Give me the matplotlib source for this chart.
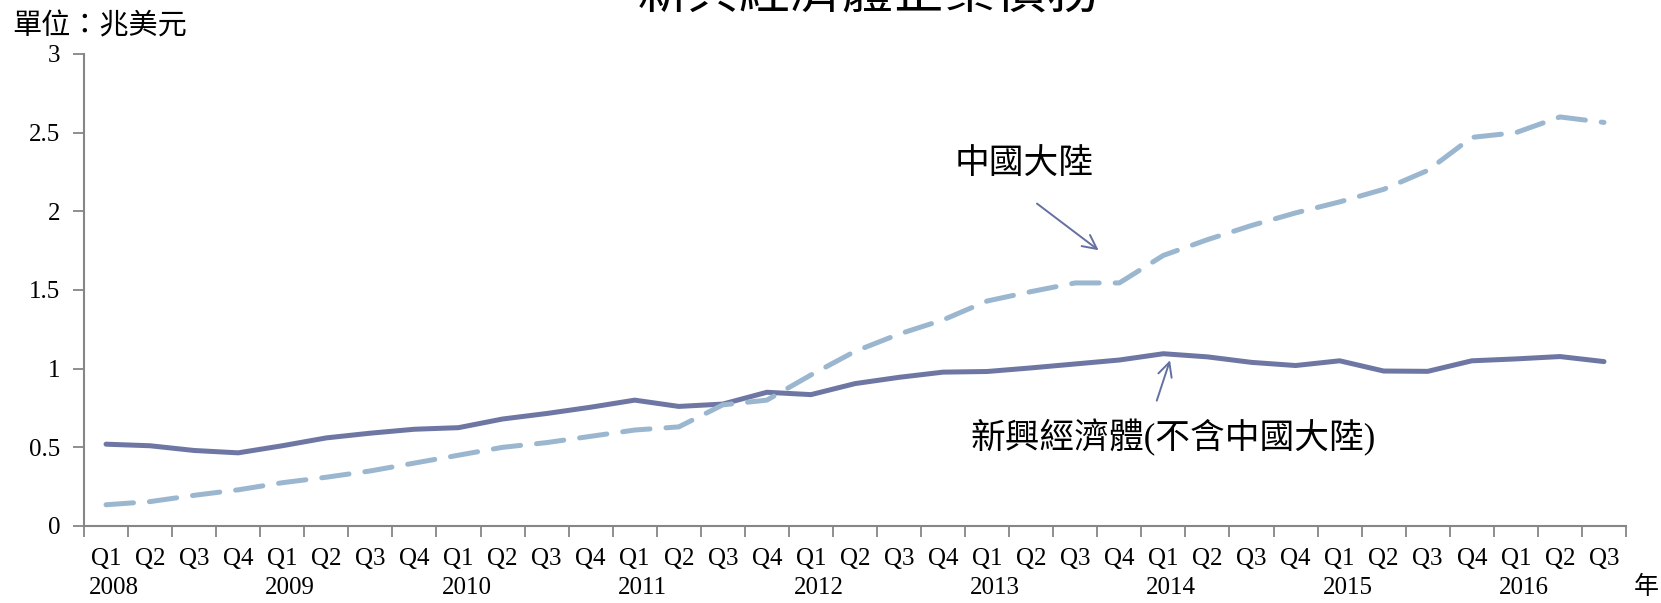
import numpy as np
import matplotlib.pyplot as plt
from matplotlib.ticker import FixedLocator, NullFormatter

plt.rcParams['font.family'] = ['Liberation Serif', 'Noto Sans CJK TC']

# data (兆美元), 2008Q1 .. 2016Q3
quarters = ['Q1', 'Q2', 'Q3', 'Q4'] * 8 + ['Q1', 'Q2', 'Q3']
years = ['2008', '2009', '2010', '2011', '2012', '2013', '2014', '2015', '2016']
emerging = [0.52, 0.51, 0.48, 0.465, 0.51, 0.56, 0.59, 0.615, 0.625, 0.68,
            0.715, 0.755, 0.80, 0.76, 0.775, 0.85, 0.835, 0.905, 0.945, 0.978,
            0.982, 1.005, 1.03, 1.055, 1.095, 1.075, 1.04, 1.02, 1.05, 0.985,
            0.983, 1.05, 1.062, 1.077, 1.045]
china = [0.135, 0.155, 0.195, 0.23, 0.275, 0.31, 0.35, 0.40, 0.45, 0.50,
         0.53, 0.57, 0.61, 0.63, 0.77, 0.80, 0.96, 1.11, 1.22, 1.31,
         1.43, 1.49, 1.545, 1.545, 1.72, 1.82, 1.91, 1.99, 2.06, 2.14,
         2.26, 2.47, 2.50, 2.60, 2.565]

W, H = 1661, 603
fig = plt.figure(figsize=(W / 100, H / 100), dpi=100)
ax = fig.add_axes([84 / W, 77 / H, 1542 / W, 472 / H])

x = np.arange(len(quarters))
ax.plot(x, emerging, color='#6E77A3', lw=3.6, solid_capstyle='round', solid_joinstyle='round')
ax.plot(x, china, color='#9BB7CF', lw=3.6, ls=(0, (5.5, 3.2)), dash_capstyle='round')

ax.set_xlim(-0.5, len(quarters) - 0.5)
ax.set_ylim(0, 3)
ax.set_yticks([0, 0.5, 1, 1.5, 2, 2.5, 3])
ax.set_yticklabels(['0', '0.5', '1', '1.5', '2', '2.5', '3'], fontsize=18)

# category boundaries as tick marks, labels at category centers
ax.xaxis.set_major_locator(FixedLocator(np.arange(len(quarters) + 1) - 0.5))
ax.xaxis.set_major_formatter(NullFormatter())
ax.set_xticks(x, minor=True)
ax.set_xticklabels(quarters, minor=True, fontsize=18)
ax.tick_params(axis='x', which='minor', length=0, pad=16)
ax.tick_params(axis='both', which='major', length=8, width=1.3, color='#868686', direction='out')
ax.tick_params(axis='y', pad=9)

for i, yr in enumerate(years):
    ax.text(i * 4 + 0.18, -0.131, yr, transform=ax.get_xaxis_transform(),
            ha='center', va='center', fontsize=18)

for s in ['top', 'right']:
    ax.spines[s].set_visible(False)
for s in ['left', 'bottom']:
    ax.spines[s].set_color('#868686')
    ax.spines[s].set_linewidth(1.5)

arrow = dict(arrowstyle='->', color='#6470A0', lw=1.4, mutation_scale=25)
ax.annotate('', xy=(22.58, 1.742), xytext=(21.08, 2.06), arrowprops=arrow)
ax.text(20.83, 2.29, '中國大陸', ha='center', va='center', fontsize=25)
ax.annotate('', xy=(24.17, 1.07), xytext=(23.83, 0.78), arrowprops=arrow)
ax.text(24.22, 0.56, '新興經濟體(不含中國大陸)', ha='center', va='center', fontsize=25)

fig.text(868 / W, 1 - 9 / H, '新興經濟體企業債務', ha='center', va='baseline', fontsize=37)
fig.text(12 / W, 1 - 27 / H, '單位：兆美元', ha='left', va='center', fontsize=21)
fig.text(1634 / W, 1 - 587 / H, '年', ha='left', va='center', fontsize=18)

fig.savefig('out.png', dpi=100)
